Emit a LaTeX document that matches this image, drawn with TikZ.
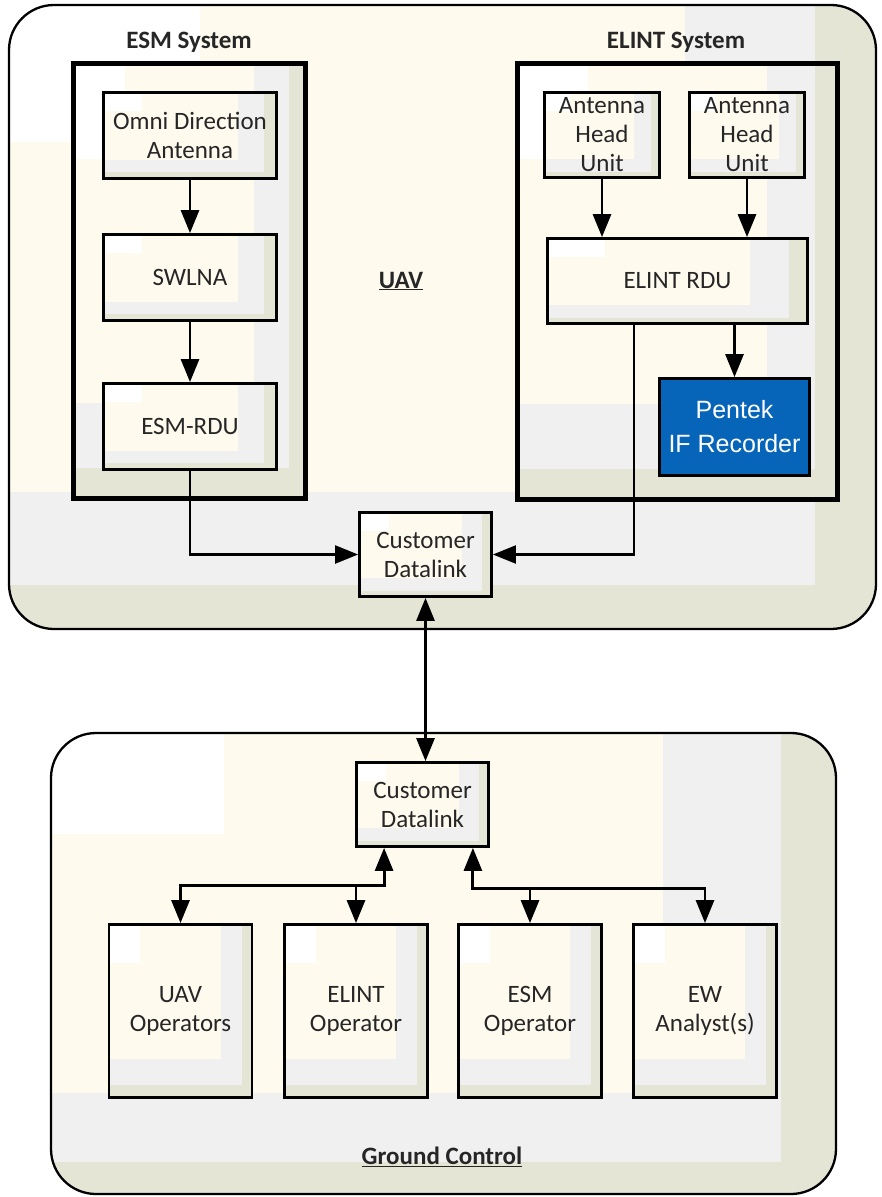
\documentclass[tikz,border=0pt]{standalone}
\usepackage{fontspec}
\setmainfont{Carlito}
\newfontfamily\arialfont{Liberation Sans}
\usetikzlibrary{arrows.meta,calc}
\definecolor{cream}{HTML}{FEFAEE}
\definecolor{lightgr}{HTML}{F0F0F0}
\definecolor{olivegr}{HTML}{E4E5D4}
\definecolor{pentekblue}{HTML}{0664B9}
\definecolor{inkgr}{HTML}{262626}
\tikzset{
  shadefill/.style={fill=cream, path picture={
      \fill[white, sharp corners] (path picture bounding box.north west) rectangle ($(path picture bounding box.north west)!0.22!(path picture bounding box.south east)$);
      \fill[lightgr, sharp corners] ($(path picture bounding box.south west)!0.78!(path picture bounding box.south east)$) rectangle (path picture bounding box.north east);
      \fill[lightgr, sharp corners] (path picture bounding box.south west) rectangle ($(path picture bounding box.south east)!0.22!(path picture bounding box.north east)$);
      \fill[olivegr, sharp corners] ($(path picture bounding box.south west)!0.93!(path picture bounding box.south east)$) rectangle (path picture bounding box.north east);
      \fill[olivegr, sharp corners] (path picture bounding box.south west) rectangle ($(path picture bounding box.south east)!0.07!(path picture bounding box.north east)$);
    }},
  box/.style={draw, line width=2.8pt, shadefill, align=center, text=inkgr, inner sep=0pt},
  sysbox/.style={draw, line width=5.5pt, shadefill},
  panel/.style={draw, line width=2.3pt, rounded corners=45pt, shadefill},
  arr/.style={line width=2.9pt, -{Triangle[width=18pt,length=23pt]}},
  dblarr/.style={line width=2.9pt, {Triangle[width=18pt,length=23pt]}-{Triangle[width=18pt,length=23pt]}},
  link/.style={line width=2.2pt, -{Triangle[width=18pt,length=23pt]}},
}
\begin{document}
\begin{tikzpicture}[x=1pt,y=-1pt,font=\fontsize{25}{29}\selectfont]
  \useasboundingbox (0,0) rectangle (882,1197);
  % containers
  \node[panel, minimum width=867pt, minimum height=624pt] (uav) at (442.5,317) {};
  \node[panel, minimum width=785pt, minimum height=461pt] (ground) at (443.5,963.5) {};
  \node[sysbox, minimum width=232pt, minimum height=435pt] (esmsys) at (189.5,281) {};
  \node[sysbox, minimum width=320pt, minimum height=436pt] (elintsys) at (677.5,281.5) {};
  \node[text=inkgr] (esmlbl) at (189,42) {\bfseries ESM System};
  \node[text=inkgr] (elintlbl) at (676,42) {\bfseries ELINT System};
  \node[text=inkgr] (uavlbl) at (401,281) {\bfseries\underline{UAV}};
  \node[text=inkgr] (groundlbl) at (442,1157) {\bfseries\underline{Ground Control}};
  % ESM chain
  \node[box, minimum width=173pt, minimum height=86pt] (omni) at (190,135.5) {Omni Direction\\Antenna};
  \node[box, minimum width=173pt, minimum height=86pt] (swlna) at (190,277.5) {SWLNA};
  \node[box, minimum width=173pt, minimum height=86pt] (esmrdu) at (190,426.5) {ESM-RDU};
  % ELINT chain
  \node[box, minimum width=115pt, minimum height=85pt] (ahuA) at (602,135) {Antenna\\Head\\Unit};
  \node[box, minimum width=115pt, minimum height=85pt] (ahuB) at (747,135) {Antenna\\Head\\Unit};
  \node[box, minimum width=260pt, minimum height=85pt] (elintrdu) at (677.5,281) {ELINT RDU};
  \node[draw, line width=2.8pt, fill=pentekblue, text=white, align=center,
        font=\arialfont\fontsize{25}{34}\selectfont,
        minimum width=150pt, minimum height=97pt] (pentek) at (734.5,427) {Pentek\\IF Recorder};
  % datalinks
  \node[box, minimum width=132pt, minimum height=84pt] (dlA) at (425.5,554.5) {Customer\\Datalink};
  \node[box, minimum width=132pt, minimum height=84pt] (dlB) at (422.5,804.5) {Customer\\Datalink};
  % operators
  \node[box, minimum width=143pt, minimum height=173pt] (uavop) at (180.5,1011) {UAV\\Operators};
  \node[box, minimum width=143pt, minimum height=173pt] (elintop) at (356,1011) {ELINT\\Operator};
  \node[box, minimum width=143pt, minimum height=173pt] (esmop) at (530,1011) {ESM\\Operator};
  \node[box, minimum width=143pt, minimum height=173pt] (ewop) at (705,1011) {EW\\Analyst(s)};
  % connectors
  \draw[arr] (omni.south) -- (swlna.north);
  \draw[arr] (swlna.south) -- (esmrdu.north);
  \draw[arr] (ahuA.south) -- (ahuA.south |- elintrdu.north);
  \draw[arr] (ahuB.south) -- (ahuB.south |- elintrdu.north);
  \draw[arr] (pentek.north |- elintrdu.south) -- (pentek.north);
  \coordinate (rdutap) at ($(elintrdu.south west)!0.335!(elintrdu.south east)$);
  \draw[link] (esmrdu.south) |- (dlA.west);
  \draw[link] (rdutap) |- (dlA.east);
  \draw[dblarr] (dlA.south) -- (dlA.south |- dlB.north);
  \coordinate (tapL) at ($(dlB.south west)!0.215!(dlB.south east)$);
  \coordinate (tapR) at ($(dlB.south west)!0.874!(dlB.south east)$);
  \coordinate (busL) at ($(tapL)+(0,38)$);
  \coordinate (busR) at ($(tapR)+(0,41)$);
  \draw[dblarr] (tapL) -- (busL) -| (uavop.north);
  \draw[arr] (busL -| elintop.north) -- (elintop.north);
  \draw[dblarr] (tapR) -- (busR) -| (ewop.north);
  \draw[arr] (busR -| esmop.north) -- (esmop.north);
\end{tikzpicture}
\end{document}
